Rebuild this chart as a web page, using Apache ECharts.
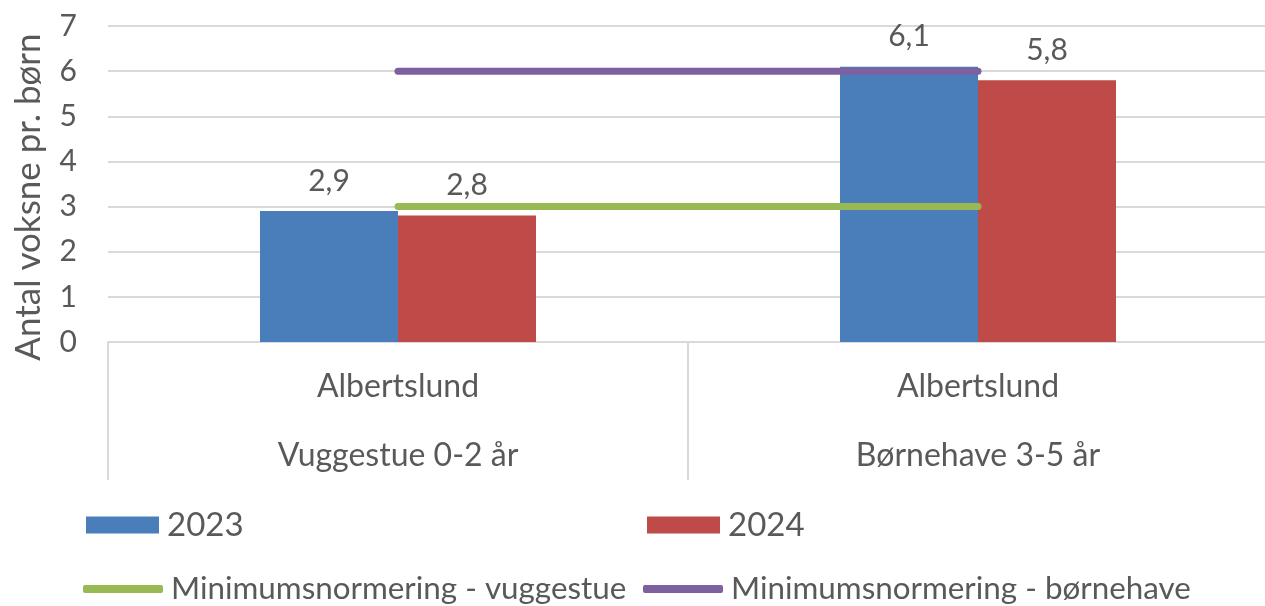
<!DOCTYPE html>
<html>
<head>
<meta charset="utf-8">
<script src="https://cdn.jsdelivr.net/npm/echarts@6/dist/echarts.min.js"></script>
<style>
html,body{margin:0;padding:0;background:#fff;}
#chart{width:1265px;height:606px;}
</style>
</head>
<body>
<div id="chart"></div>
<script>
// Data
const groups = ['Vuggestue 0-2 år', 'Børnehave 3-5 år'];
const municipality = ['Albertslund', 'Albertslund'];
const values2023 = [2.9, 6.1];
const values2024 = [2.8, 5.8];
const minVuggestue = [3, 3];
const minBornehave = [6, 6];
const yTicks = { min: 0, max: 7, interval: 1 };
const yName = 'Antal voksne pr. børn';

const FONT = 'Lato';
const TXT = '#595959';
const GRID = '#d9d9d9';

const chart = echarts.init(document.getElementById('chart'));
const fmt = p => String(p.value).replace('.', ',');

const legendBase = {
  orient: 'horizontal',
  padding: 0,
  itemWidth: 73,
  itemHeight: 17,
  textStyle: { fontFamily: FONT, fontSize: 33, color: TXT, padding: [0, 0, 0, 3], lineHeight: 36 },
  selectedMode: false
};
const legendRow2Text = { fontFamily: FONT, fontSize: 31.4, color: TXT, padding: [0, 0, 0, 3], lineHeight: 36 };

chart.setOption({
  animation: false,
  backgroundColor: '#fff',
  textStyle: { fontFamily: FONT },
  grid: { left: 108, right: -3, top: 26, bottom: 264, containLabel: false, outerBoundsMode: 'none' },
  legend: [
    Object.assign({}, legendBase, { data: [{ name: '2023', icon: 'rect' }], left: 86, top: 507 }),
    Object.assign({}, legendBase, { data: [{ name: '2024', icon: 'rect' }], left: 647, top: 507 }),
    Object.assign({}, legendBase, { data: [{ name: 'Minimumsnormering - vuggestue', icon: 'roundRect' }], left: 83, top: 571, itemWidth: 80, itemHeight: 8, textStyle: legendRow2Text }),
    Object.assign({}, legendBase, { data: [{ name: 'Minimumsnormering - børnehave', icon: 'roundRect' }], left: 643, top: 571, itemWidth: 80, itemHeight: 8, textStyle: legendRow2Text })
  ],
  xAxis: {
    type: 'category',
    data: groups,
    boundaryGap: true,
    axisLine: { show: true, lineStyle: { color: GRID, width: 2 } },
    axisTick: { show: true, length: 138, lineStyle: { color: GRID, width: 2 } },
    axisLabel: {
      fontFamily: FONT, fontSize: 32, color: TXT,
      lineHeight: 69, margin: 10, interval: 0,
      formatter: (v, i) => municipality[i] + '\n' + v
    }
  },
  yAxis: {
    type: 'value',
    min: yTicks.min, max: yTicks.max, interval: yTicks.interval,
    name: yName,
    nameLocation: 'middle',
    nameRotate: 90,
    nameGap: 62,
    nameTextStyle: { fontFamily: FONT, fontSize: 35, color: TXT, padding: [0, 26, 0, 0] },
    axisLine: { show: false },
    axisTick: { show: false },
    axisLabel: { fontFamily: FONT, fontSize: 30, color: TXT, margin: 31 },
    splitLine: { show: true, lineStyle: { color: GRID, width: 2 } }
  },
  series: [
    {
      name: '2023', type: 'bar', data: values2023, barWidth: 138, barGap: '0%',
      itemStyle: { color: '#4A7EBB' },
      label: { show: true, position: 'top', distance: 15, fontFamily: FONT, fontSize: 30, color: TXT, formatter: fmt }
    },
    {
      name: '2024', type: 'bar', data: values2024, barWidth: 138, barGap: '0%',
      itemStyle: { color: '#BE4B48' },
      label: { show: true, position: 'top', distance: 15, fontFamily: FONT, fontSize: 30, color: TXT, formatter: fmt }
    },
    {
      name: 'Minimumsnormering - vuggestue', type: 'line', data: minVuggestue,
      symbol: 'none', z: 5,
      lineStyle: { color: '#98B954', width: 7, cap: 'round' },
      itemStyle: { color: '#98B954' }
    },
    {
      name: 'Minimumsnormering - børnehave', type: 'line', data: minBornehave,
      symbol: 'none', z: 5,
      lineStyle: { color: '#7D60A0', width: 7, cap: 'round' },
      itemStyle: { color: '#7D60A0' }
    }
  ]
});
</script>
</body>
</html>
